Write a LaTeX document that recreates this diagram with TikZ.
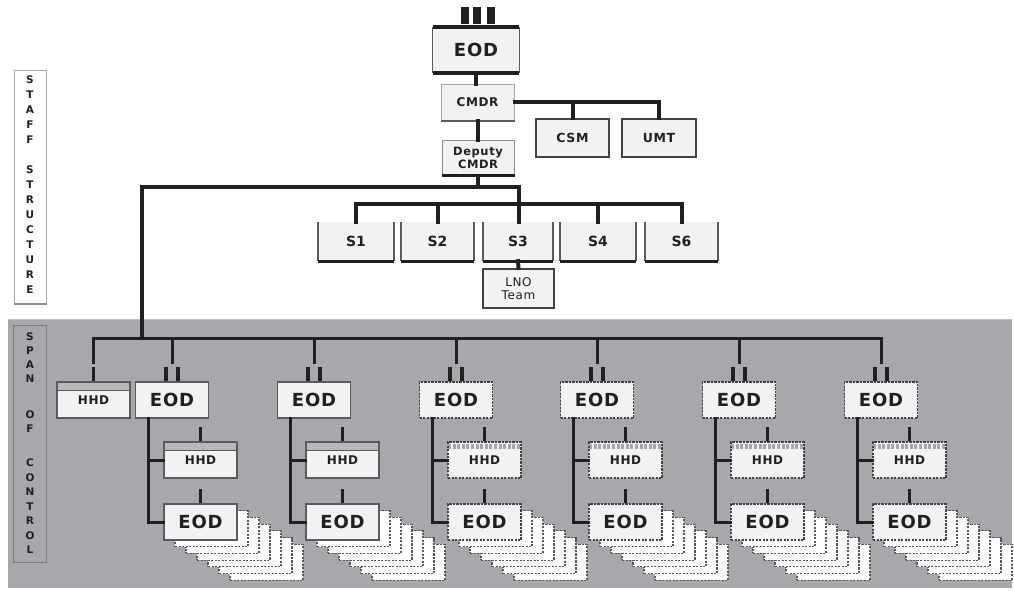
\documentclass[tikz,border=0pt]{standalone}
\usepackage{fontspec}
\setmainfont{DejaVu Sans}
\newfontfamily\wfont[LetterSpace=5]{DejaVu Sans}
\definecolor{panel}{HTML}{A7A8AC}
\definecolor{boxfill}{HTML}{F2F2F2}
\definecolor{ink}{HTML}{231F20}
\definecolor{edge}{HTML}{5A5B5E}
\begin{document}
\begin{tikzpicture}[x=1pt,y=-1pt,
  conn/.style={draw=ink, line width=3pt, line cap=rect},
  sconn/.style={draw=ink, line width=4pt, line cap=rect},
  bar/.style={draw=ink, line width=3.5pt},
  base/.style={fill=boxfill, inner sep=0pt, minimum width=73pt, minimum height=36pt, text=ink},
  eodS/.style={base, draw=edge, line width=1.6pt, font=\wfont\bfseries\fontsize{18}{18}\selectfont},
  eodD/.style={base, draw=ink!85, line width=1.4pt, dash pattern=on 2.2pt off 1.3pt, font=\wfont\bfseries\fontsize{18}{18}\selectfont},
  stackbox/.style={base, fill=white!92!boxfill, draw=ink!75, line width=1.2pt, dash pattern=on 2.2pt off 1.3pt},
  hhdS/.style={eodS, font=\wfont\bfseries\fontsize{12}{12}\selectfont, text depth=-2pt,
    path picture={\fill[black!28] (path picture bounding box.north west) rectangle ([yshift=-8pt]path picture bounding box.north east);
      \draw[edge, line width=1pt, solid] ([yshift=-8pt]path picture bounding box.north west) -- ([yshift=-8pt]path picture bounding box.north east);}},
  hhdD/.style={eodD, font=\wfont\bfseries\fontsize{12}{12}\selectfont, text depth=-2pt,
    path picture={\draw[ink!40, line width=5pt, dash pattern=on 3pt off 1.6pt] ([yshift=-4.5pt]path picture bounding box.north west) -- ([yshift=-4.5pt]path picture bounding box.north east);}},
  sidelet/.style={font=\bfseries\fontsize{10.5}{10.5}\selectfont, text=ink, inner sep=0pt},
  sb/.style={base, minimum width=74pt, minimum height=39pt, font=\bfseries\fontsize{14}{14}\selectfont}
]
\path[use as bounding box] (0,0) rectangle (1014,590);
% span panel
\fill[panel] (8,319) rectangle (1012,588);
\draw[black!25, line width=0.8pt] (8,319) -- (1012,319);

% side boxes
\node[draw=black!35, line width=1pt, minimum width=32pt, minimum height=233pt, inner sep=0pt] (staffbox) at (30,186.5) {};
\draw[black!45, line width=2pt] (staffbox.south west) -- (staffbox.south east);
\foreach \l [count=\k] in {S,T,A,F,F}
  \node[sidelet] (sa\k) at (30,80+15*\k-15) {\l};
\foreach \l [count=\k] in {S,T,R,U,C,T,U,R,E}
  \node[sidelet] (sb\k) at (30,170+15*\k-15) {\l};
\node[draw=black!50, line width=1pt, minimum width=33pt, minimum height=237pt, inner sep=0pt] (spanbox) at (29.5,443.5) {};
\foreach \l/\y [count=\k] in {S/337,P/351,A/365,N/379,O/415,F/429,C/463,O/477.5,N/492,T/506.5,R/521,O/535.5,L/550}
  \node[sidelet] (sp\k) at (30,\y) {\l};

% top EOD
\node[base, minimum width=86pt, minimum height=46pt, font=\wfont\bfseries\fontsize{18}{18}\selectfont] (eod0) at (476,50) {EOD};
\draw[edge, line width=1.2pt] (eod0.north west) -- (eod0.south west) (eod0.north east) -- (eod0.south east);
\draw[ink, line width=4pt] (eod0.north west) -- (eod0.north east);
\draw[ink, line width=4pt] (eod0.south west) -- (eod0.south east);
\foreach \dx in {-11,1,15}
  \draw[ink, line width=8pt] ([xshift=\dx pt, yshift=3pt]eod0.north) -- ++(0,-17);

% CMDR
\node[base, draw=black!35, line width=1pt, font=\wfont\bfseries\fontsize{12}{12}\selectfont] (cmdr) at (477.5,102) {CMDR};
\draw[edge, line width=2pt] (cmdr.south west) -- (cmdr.south east);
\node[base, draw=ink!85, line width=2pt, minimum height=38pt, font=\wfont\bfseries\fontsize{12.5}{12.5}\selectfont] (csm) at (572.5,138) {CSM};
\node[base, draw=ink!85, line width=2pt, minimum width=74pt, minimum height=38pt, font=\wfont\bfseries\fontsize{12.5}{12.5}\selectfont] (umt) at (659,138) {UMT};
\node[base, draw=black!45, line width=1pt, minimum width=72pt, minimum height=35pt, align=center, font=\wfont\bfseries\fontsize{11.5}{13}\selectfont] (dep) at (478,157.5) {Deputy\\CMDR};
\draw[ink, line width=3pt] (dep.south west) -- (dep.south east);

\draw[sconn] (eod0.south) -- (eod0.south |- cmdr.north);
\draw[sconn] (cmdr.east) -| (umt.north);
\draw[sconn] (csm.north) -- (csm.north |- cmdr.east);
\draw[sconn] (cmdr.south -| dep.north) -- (dep.north);

% S row
\node[sb, minimum width=76pt] (s1) at (356,241.5) {S1};
\node[sb, minimum width=73pt] (s2) at (437.5,241.5) {S2};
\node[sb, minimum width=70pt] (s3) at (518,241.5) {S3};
\node[sb, minimum width=76pt] (s4) at (598,241.5) {S4};
\node[sb, minimum width=73pt] (s6) at (681.5,241.5) {S6};
\foreach \s in {s1,s2,s3,s4,s6} {
  \draw[edge, line width=1.5pt] (\s.north west) -- (\s.south west) (\s.north east) -- (\s.south east);
  \draw[ink, line width=3pt] (\s.south west) -- (\s.south east);
}
\node[base, draw=ink!85, line width=2pt, minimum width=71pt, minimum height=39pt, align=center, font=\wfont\fontsize{12}{13.5}\selectfont] (lno) at (518.5,288.5) {LNO\\Team};

\coordinate (j0) at (142,187);
\coordinate (j1) at (519,187);
\coordinate (j2) at (519,204);
\coordinate (k0) at (142,338);
\draw[sconn] (dep.south) -- (dep.south |- j1);
\draw[sconn] (k0) -- (j0) -- (j1) -- (j1 |- s3.north);
\draw[sconn] (s1.north) |- (j2) -| (s6.north);
\draw[sconn] (s2.north) -- (s2.north |- j2);
\draw[sconn] (s4.north) -- (s4.north |- j2);
\draw[sconn] (s3.south) -- (lno.north);

% span of control
\node[hhdS] (h0) at (93.5,400) {HHD};
\draw[bar] (h0.north) -- ++(0,-14);
\foreach \i/\d/\es/\hs in {1/172/eodS/hhdS, 2/314/eodS/hhdS, 3/456/eodD/hhdD, 4/597/eodD/hhdD, 5/739/eodD/hhdD, 6/881/eodD/hhdD} {
  \pgfmathsetmacro{\cx}{\d+28.5}
  \node[\es] (e\i) at (\d,400) {EOD};
  \node[\hs] (h\i) at (\cx,460) {HHD};
  \foreach \k in {6,5,4,3,2,1}
    \node[stackbox] (q\i\k) at (\cx+11*\k, 522+6.7*\k) {};
  \node[\es] (b\i) at (\cx,522) {EOD};
  \draw[conn] ([xshift=-24pt]e\i.south) |- (b\i.west);
  \draw[conn] ([xshift=-24pt]e\i.south |- h\i.west) -- (h\i.west);
  \draw[bar] (h\i.north) -- ++(0,-14);
  \draw[bar] (b\i.north) -- ++(0,-14);
  \draw[bar] ([xshift=-6pt]e\i.north) -- ++(0,-14);
  \draw[bar] ([xshift=6pt]e\i.north) -- ++(0,-14);
  \draw[conn] (e\i.north |- k0) -- ++(0,24);
}
\draw[conn] (h0.north |- k0) -- ++(0,24);
\draw[conn] (h0.north |- k0) -- (e6.north |- k0);
\end{tikzpicture}
\end{document}
